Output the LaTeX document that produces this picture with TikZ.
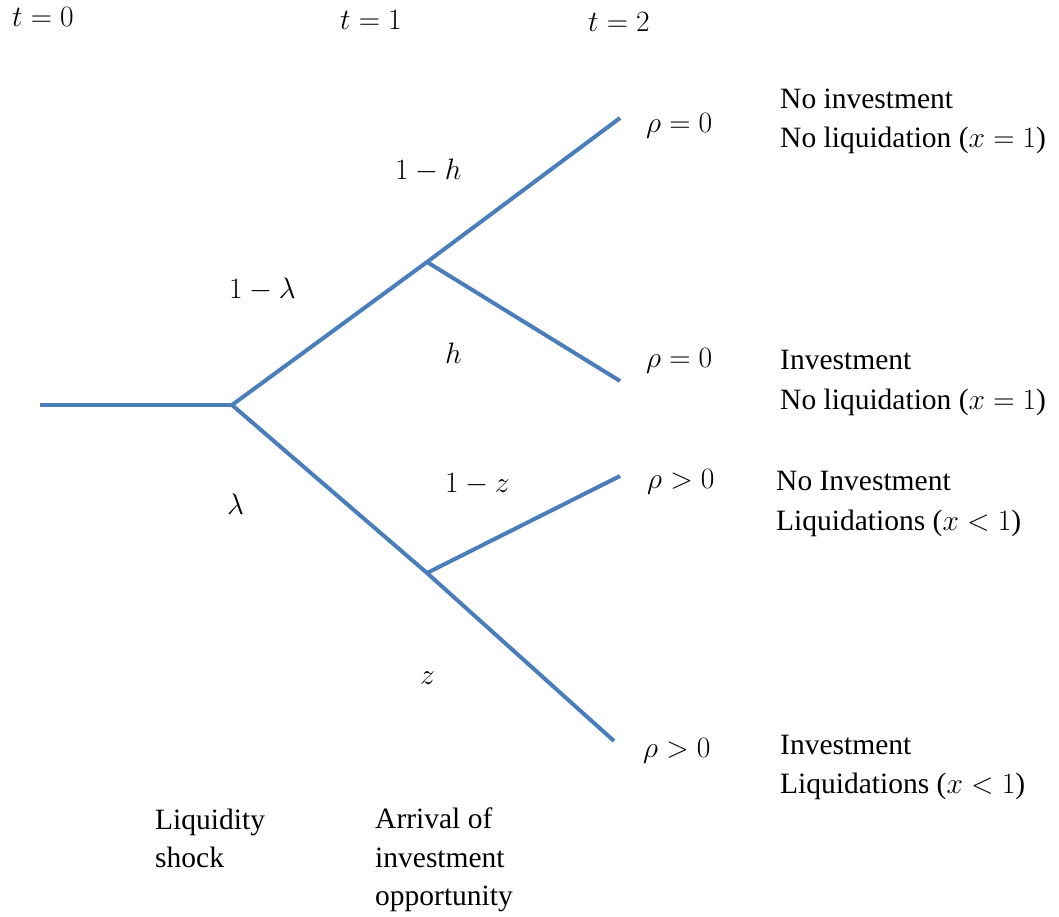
\RequirePackage{fix-cm}
\documentclass[tikz,border=0pt]{standalone}
\usepackage{fontspec}
\setmainfont{Liberation Serif}
\definecolor{branch}{HTML}{4A7EBB}
\tikzset{
  branchline/.style={draw=branch, line width=4pt},
  lbl/.style={inner sep=0pt, anchor=base west, font=\fontsize{29.5}{40}\selectfont},
}
\begin{document}
\begin{tikzpicture}[x=1pt,y=-1pt]
\useasboundingbox (0,0) rectangle (1059,917);
% tree points
\coordinate (s) at (40,405);
\coordinate (a) at (232,405);
\coordinate (b) at (427,262);
\coordinate (c) at (427,573);
\coordinate (e1) at (620,118);
\coordinate (e2) at (620,381);
\coordinate (e3) at (620,476);
\coordinate (e4) at (614,741);
\draw[branchline] (s) -- (a);
\draw[branchline] (a) -- (b);
\draw[branchline] (a) -- (c);
\draw[branchline] (b) -- (e1);
\draw[branchline] (b) -- (e2);
\draw[branchline] (c) -- (e3);
\draw[branchline] (c) -- (e4);
% time labels
\node[lbl] (t0) at (12,27) {$t=0$};
\node[lbl] (t1) at (340,30) {$t=1$};
\node[lbl] (t2) at (588,32) {$t=2$};
% probabilities
\node[lbl] (p1h) at (395,180) {$1-h$};
\node[lbl] (p1l) at (229,298) {$1-\lambda$};
\node[lbl] (ph) at (445,363) {$h$};
\node[lbl] (pl) at (227,514) {$\lambda$};
\node[lbl] (p1z) at (445,492) {$1-z$};
\node[lbl] (pz) at (420,684) {$z$};
% rho
\node[lbl] (r1) at (646,133) {$\rho=0$};
\node[lbl] (r2) at (646,367) {$\rho=0$};
\node[lbl] (r3) at (647,488) {$\rho>0$};
\node[lbl] (r4) at (643,757) {$\rho>0$};
% outcomes
\node[lbl] (o1a) at (780,109) {No investment};
\node[lbl] (o1b) at (780,148) {No liquidation ($x=1$)};
\node[lbl] (o2a) at (780,369) {Investment};
\node[lbl] (o2b) at (780,409) {No liquidation ($x=1$)};
\node[lbl] (o3a) at (776,490) {No Investment};
\node[lbl] (o3b) at (776,530) {Liquidations ($x<1$)};
\node[lbl] (o4a) at (780,754) {Investment};
\node[lbl] (o4b) at (780,793) {Liquidations ($x<1$)};
% bottom
\node[lbl] (la) at (155,829) {Liquidity};
\node[lbl] (lb) at (155,867) {shock};
\node[lbl] (aa) at (375,828) {Arrival of};
\node[lbl] (ab) at (375,867) {investment};
\node[lbl] (ac) at (375,905) {opportunity};
\end{tikzpicture}
\end{document}
